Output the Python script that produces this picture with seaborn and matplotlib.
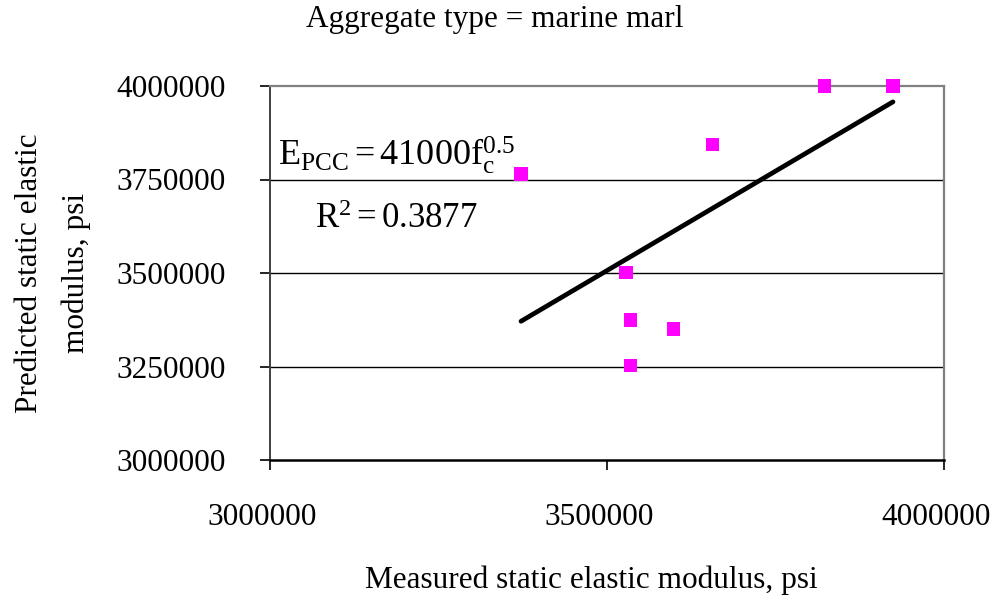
import numpy as np
import pandas as pd
import matplotlib
matplotlib.use("Agg")
import matplotlib.pyplot as plt
from matplotlib.transforms import ScaledTranslation
import seaborn as sns

# Measured vs. predicted static elastic modulus (psi), marine marl aggregate
measured = [3372400, 3528200, 3535200, 3599000, 3535200, 3656800, 3822400, 3924300]
predicted = [3764700, 3501900, 3374300, 3350300, 3252100, 3844100, 4000000, 4000000]

x_ticks = [3000000, 3500000, 4000000]
y_ticks = [3000000, 3250000, 3500000, 3750000, 4000000]
x_tick_labels = ["3000000", "3500000", "4000000"]
y_tick_labels = ["3000000", "3250000", "3500000", "3750000", "4000000"]

title = "Aggregate type = marine marl"
x_label = "Measured static elastic modulus, psi"
y_label = "Predicted static elastic\nmodulus, psi"
equation = r"$\mathrm{E_{PCC} = 41000f_c^{0.5}}$"
r_squared = r"$\mathrm{R^2 = 0.3877}$"

df = pd.DataFrame({"measured": measured, "predicted": predicted})

sns.set_style("white")
plt.rcParams["font.family"] = ["Liberation Serif", "DejaVu Serif"]
plt.rcParams["mathtext.fontset"] = "custom"
plt.rcParams["mathtext.rm"] = "Liberation Serif"
plt.rcParams["mathtext.it"] = "Liberation Serif:italic"
plt.rcParams["text.color"] = "black"
plt.rcParams["axes.labelcolor"] = "black"

fig = plt.figure(figsize=(9.97, 6.02), dpi=100)
ax = fig.add_axes([270 / 997, 1 - 460 / 602, 674 / 997, 374 / 602])

ax.set_xlim(3000000, 4000000)
ax.set_ylim(3000000, 4000000)

# horizontal gridlines
for yv in y_ticks[1:-1]:
    ax.axhline(yv, color="black", lw=1.0, zorder=1)

# linear trend line over the data range
sns.regplot(data=df, x="measured", y="predicted", scatter=False, ci=None,
            truncate=True, color="black", line_kws={"lw": 3.4, "zorder": 3}, ax=ax)

sns.scatterplot(data=df, x="measured", y="predicted", marker="s", s=95,
                color="#FF00FF", edgecolor="none", linewidth=0, zorder=4,
                clip_on=False, ax=ax)

ax.set_xticks(x_ticks)
ax.set_xticklabels(x_tick_labels)
ax.set_yticks(y_ticks)
ax.set_yticklabels(y_tick_labels)
ax.tick_params(axis="both", direction="out", length=7, width=1.2,
               labelsize=22.5, colors="black", bottom=True, left=True)
ax.tick_params(axis="x", pad=24)
ax.tick_params(axis="y", pad=25)
for lab in ax.get_xticklabels():
    lab.set_transform(lab.get_transform() + ScaledTranslation(-8 / 100, 0, fig.dpi_scale_trans))

for side in ["top", "right"]:
    ax.spines[side].set_color("#808080")
    ax.spines[side].set_linewidth(1.6)
ax.spines["left"].set_color("#404040")
ax.spines["left"].set_linewidth(1.4)
ax.spines["bottom"].set_color("black")
ax.spines["bottom"].set_linewidth(1.8)

ax.set_xlabel(x_label, fontsize=22.5)
ax.xaxis.set_label_coords(0.476, -0.283)
ax.set_ylabel(y_label, fontsize=22.5, multialignment="center", linespacing=1.75)
ax.yaxis.set_label_coords(-0.266, 0.5)

fig.text(494.5 / 997, 1 - 20 / 602, title, ha="center", va="center", fontsize=22.5)

ax.text(0.012, 0.789, equation, transform=ax.transAxes, fontsize=26,
        ha="left", va="baseline")
ax.text(0.067, 0.620, r_squared, transform=ax.transAxes, fontsize=25,
        ha="left", va="baseline")

fig.savefig("out.png", dpi=100)
